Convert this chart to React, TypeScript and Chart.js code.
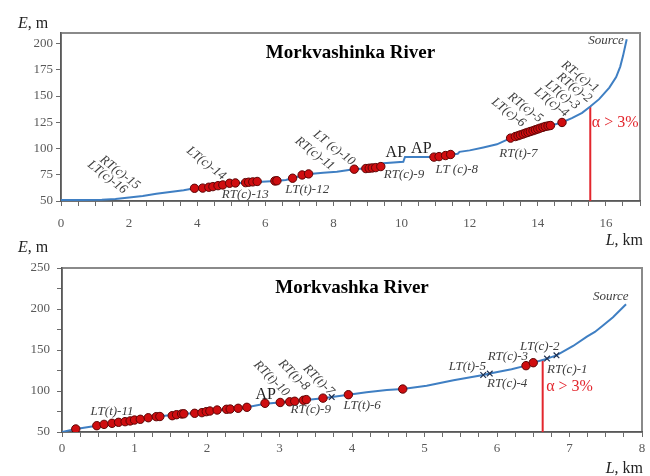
import React, { useEffect, useRef } from "react";
import { Chart, registerables } from "chart.js";

Chart.register(...registerables);

const SERIF = "'Liberation Serif', 'Times New Roman', serif";

// ---- Morkvashinka River (upper panel) ----
const morkvashinkaL = [0, 0.6, 1.2, 1.6, 2.0, 2.4, 2.8, 3.2, 3.6, 3.92, 4.3, 4.7, 5.1, 5.5, 5.9, 6.3, 6.6, 6.8, 7.1, 7.3, 7.7, 8.1, 8.6, 9.0, 9.4, 9.47, 10.05, 10.1, 10.85, 11.0, 11.45, 11.65, 11.7, 12.0, 12.4, 12.8, 13.2, 13.6, 14.0, 14.4, 14.7, 15.0, 15.3, 15.54, 15.8, 16.1, 16.3, 16.42, 16.5, 16.61];
const morkvashinkaE = [51, 51, 51.2, 52, 53.3, 54.8, 56.8, 58.6, 60.2, 62.1, 63, 65, 67, 67.6, 68.3, 69.1, 70, 71.7, 74.5, 75.8, 76.8, 77.8, 80.3, 81.2, 82.8, 86, 87.3, 92, 92, 91.8, 94.3, 95, 96.8, 98.2, 101, 104, 109.9, 114.7, 118.6, 122, 124.8, 129, 134, 140, 147, 158, 168, 178, 188, 204];
const morkvashinkaSiteL = [3.92, 4.16, 4.34, 4.46, 4.61, 4.75, 4.95, 5.12, 5.42, 5.51, 5.63, 5.76, 6.28, 6.34, 6.8, 7.08, 7.27, 8.61, 8.95, 9.05, 9.14, 9.24, 9.39, 10.95, 11.1, 11.29, 11.44, 13.2, 13.34, 13.42, 13.49, 13.57, 13.64, 13.71, 13.78, 13.86, 13.93, 14.0, 14.07, 14.15, 14.22, 14.3, 14.37, 14.71];
const morkvashinkaSiteE = [62.1, 62.3, 63.1, 63.7, 64.6, 65.3, 66.9, 67.2, 67.5, 67.9, 68.2, 68.6, 69.1, 69.3, 71.7, 74.8, 75.8, 80.3, 80.9, 81.2, 81.5, 81.8, 82.8, 91.8, 92.3, 93.3, 94.3, 109.9, 111.4, 112.2, 113.0, 113.8, 114.7, 115.4, 116.2, 117.0, 117.8, 118.6, 119.4, 120.2, 121.0, 121.5, 121.9, 124.8];
const morkvashinkaSlopeL = 15.54;
const morkvashinkaSlopeE = 140;
const morkvashinkaXLabels = [0, 2, 4, 6, 8, 10, 12, 14, 16];
const morkvashinkaYLabels = [50, 75, 100, 125, 150, 175, 200];
const morkvashinkaTribText = ["LT(c)-16", "RT(c)-15", "LT(c)-14", "RT(c)-13", "LT(t)-12", "RT(c)-11", "LT (c)-10", "RT(c)-9", "LT (c)-8", "RT(t)-7", "LT(c)-6", "RT(c)-5", "LT(c)-4", "LT(c)-3", "RT(c)-2", "RT-(c)-1"];
const morkvashinkaTribL = [1.36, 1.73, 4.26, 5.41, 7.23, 7.45, 8.02, 10.07, 11.62, 13.43, 13.14, 13.63, 14.4, 14.72, 15.07, 15.24];
const morkvashinkaTribE = [72.6, 77.1, 85.9, 55.7, 60.5, 95.2, 100.5, 74.8, 79.5, 94.8, 134.3, 139, 143.8, 151, 158.1, 168.4];
const morkvashinkaTribTilt = [38, 38, 38, 0, 0, 38, 38, 0, 0, 0, 38, 38, 38, 38, 38, 38];
const morkvashinkaApL = [9.83, 10.58];
const morkvashinkaApE = [95.7, 99.5];

// ---- Morkvashka River (lower panel) ----
const morkvashkaL = [0, 0.19, 0.48, 0.7, 1.0, 1.3, 1.6, 1.9, 2.2, 2.55, 2.8, 3.0, 3.3, 3.6, 3.95, 4.2, 4.48, 4.7, 5.03, 5.4, 5.81, 5.9, 6.2, 6.4, 6.5, 6.69, 6.82, 7.05, 7.24, 7.35, 7.47, 7.6, 7.78];
const morkvashkaE = [50, 53.7, 57.7, 60.8, 64.6, 68.5, 71.5, 73.5, 77, 80.1, 84.5, 86, 88.5, 91.3, 95.5, 98.5, 101.2, 102.4, 106.5, 113.2, 119.5, 121.3, 126.5, 130.9, 134.5, 139.5, 143.5, 154.9, 166.3, 172, 180.5, 190, 205.7];
const morkvashkaSiteL = [0.19, 0.48, 0.58, 0.69, 0.78, 0.87, 0.94, 1.0, 1.08, 1.19, 1.3, 1.35, 1.52, 1.58, 1.65, 1.68, 1.83, 1.93, 1.99, 2.04, 2.14, 2.27, 2.32, 2.43, 2.55, 2.8, 3.01, 3.14, 3.21, 3.33, 3.37, 3.6, 3.95, 4.7, 6.4, 6.5];
const morkvashkaSiteE = [53.7, 57.7, 59.3, 60.6, 61.8, 62.6, 63.5, 64.6, 65.5, 67.4, 68.7, 68.9, 69.9, 71.1, 72.0, 72.2, 72.8, 73.6, 74.8, 75.6, 76.8, 77.7, 78.0, 78.9, 80.1, 85.0, 86.0, 86.8, 87.5, 88.7, 89.5, 91.3, 95.5, 102.4, 130.9, 134.5];
const morkvashkaMouthL = [3.72, 5.81, 5.9, 6.69, 6.82];
const morkvashkaMouthE = [92.6, 119.5, 121.3, 139.5, 143.5];
const morkvashkaSlopeL = 6.63;
const morkvashkaSlopeE = 138;
const morkvashkaXLabels = [0, 1, 2, 3, 4, 5, 6, 7, 8];
const morkvashkaYLabels = [50, 100, 150, 200, 250];
const morkvashkaTribText = ["LT(t)-11", "RT(t)-10", "RT(t)-8", "RT(t)-7", "RT(c)-9", "LT(t)-6", "LT(t)-5", "RT(c)-4", "RT(c)-3", "LT(c)-2", "RT(c)-1"];
const morkvashkaTribL = [0.69, 2.89, 3.2, 3.54, 3.43, 4.14, 5.59, 6.14, 6.15, 6.59, 6.97];
const morkvashkaTribE = [74.4, 115.2, 119.5, 113.4, 76.8, 81.7, 129.3, 108.5, 141.5, 153.7, 125.6];
const morkvashkaTribTilt = [0, 45, 45, 45, 0, 0, 0, 0, 0, 0, 0];
const morkvashkaApL = [2.81];
const morkvashkaApE = [95.1];

type Note = { text: string; x: number; y: number; tilt?: number; font: string; color: string; align?: CanvasTextAlign };

type PanelSpec = {
  top: number;
  height: number;
  title: string;
  xMax: number;
  xMinor: number;
  xLabels: number[];
  yMin: number;
  yMax: number;
  yMinor: number;
  yLabels: number[];
  area: { left: number; right: number; top: number; bottom: number };
  yTick: { len: number; pad: number };
  xTick: { len: number; pad: number };
  titleY: number;
  eTitleY: number;
  lTitleY: number;
  line: { x: number; y: number }[];
  sites: { x: number; y: number }[];
  mouths: { x: number; y: number }[];
  slope: { x: number; y: number }[];
  notes: Note[];
  siteRadius: number;
};

const pairs = (xs: number[], ys: number[]) => xs.map((x, i) => ({ x, y: ys[i] }));

const italic = (px: number) => `italic ${px}px ${SERIF}`;
const upright = (px: number) => `${px}px ${SERIF}`;
const LABEL_GREY = "#3f3f3f";
const SLOPE_RED = "#e3262d";

function buildNotes(text: string[], ls: number[], es: number[], tilt: number[], apL: number[], apE: number[]): Note[] {
  const notes: Note[] = text.map((t, i) => ({ text: t, x: ls[i], y: es[i], tilt: tilt[i], font: italic(13), color: LABEL_GREY }));
  apL.forEach((l, i) => notes.push({ text: "AP", x: l, y: apE[i], font: upright(16), color: "#222" }));
  return notes;
}

const steps = (max: number, step: number) => {
  const out: number[] = [];
  for (let v = 0; v <= max + 1e-9; v += step) out.push(Math.round(v * 100) / 100);
  return out;
};

const decorPlugin = {
  id: "decor",
  beforeDraw(chart: any) {
    const { ctx, chartArea: a } = chart;
    ctx.save();
    ctx.fillStyle = "#ffffff";
    ctx.fillRect(a.left, a.top, a.right - a.left, a.bottom - a.top);
    ctx.strokeStyle = "#8a8a8a";
    ctx.lineWidth = 2;
    ctx.strokeRect(a.left, a.top, a.right - a.left, a.bottom - a.top);
    ctx.restore();
  },
  afterDraw(chart: any, _args: any, opts: any) {
    const { ctx, chartArea: a, scales } = chart;
    const sx = scales.x;
    const sy = scales.y;
    ctx.save();
    // panel title
    ctx.fillStyle = "#000";
    ctx.font = `bold 19px ${SERIF}`;
    ctx.textAlign = "center";
    ctx.textBaseline = "middle";
    ctx.fillText(opts.title, (a.left + a.right) / 2, opts.titleY);

    // annotations in data coordinates
    for (const n of opts.notes as Note[]) {
      const px = sx.getPixelForValue(n.x);
      const py = sy.getPixelForValue(n.y);
      ctx.save();
      ctx.translate(px, py);
      if (n.tilt) ctx.rotate((n.tilt * Math.PI) / 180);
      ctx.font = n.font;
      ctx.fillStyle = n.color;
      ctx.textAlign = n.align || "center";
      ctx.textBaseline = "middle";
      ctx.fillText(n.text, 0, 0);
      ctx.restore();
    }

    // axis titles: E, m  and  L, km
    ctx.textAlign = "left";
    ctx.textBaseline = "alphabetic";
    ctx.fillStyle = "#222";
    ctx.font = italic(16);
    ctx.fillText("E", 18, opts.eTitleY);
    const ew = ctx.measureText("E").width;
    ctx.font = upright(16);
    ctx.fillText(", m", 18 + ew, opts.eTitleY);

    ctx.font = upright(16);
    const kmW = ctx.measureText(", km").width;
    ctx.font = italic(16);
    const lW = ctx.measureText("L").width;
    const lx = 643 - kmW - lW;
    ctx.fillText("L", lx, opts.lTitleY);
    ctx.font = upright(16);
    ctx.fillText(", km", lx + lW, opts.lTitleY);
    ctx.restore();
  },
};

function Panel({ spec }: { spec: PanelSpec }) {
  const ref = useRef<HTMLCanvasElement | null>(null);

  useEffect(() => {
    if (!ref.current) return;
    const xTicks = steps(spec.xMax, spec.xMinor);
    const yTicks = steps(spec.yMax - spec.yMin, spec.yMinor).map((v) => v + spec.yMin);
    const chart = new Chart(ref.current, {
      type: "scatter",
      data: {
        datasets: [
          {
            label: "sites",
            data: spec.sites,
            order: 0,
            pointRadius: spec.siteRadius,
            pointBackgroundColor: "#cf0d10",
            pointBorderColor: "#5e0606",
            pointBorderWidth: 1,
            showLine: false,
          },
          {
            label: "mouths",
            data: spec.mouths,
            order: 1,
            pointStyle: "crossRot",
            pointRadius: 4,
            pointBorderColor: "#1f3050",
            pointBorderWidth: 1.2,
            showLine: false,
          },
          {
            label: "profile",
            data: spec.line,
            order: 2,
            showLine: true,
            borderColor: "#3f7fc3",
            borderWidth: 2,
            pointRadius: 0,
            tension: 0,
          },
          {
            label: "slope",
            data: spec.slope,
            order: 3,
            showLine: true,
            borderColor: SLOPE_RED,
            borderWidth: 2,
            pointRadius: 0,
          },
        ],
      },
      options: {
        animation: false,
        responsive: false,
        maintainAspectRatio: false,
        devicePixelRatio: 1,
        events: [],
        layout: {
          padding: { left: 0, top: spec.area.top, right: 650 - spec.area.right, bottom: 0 },
        },
        plugins: {
          legend: { display: false },
          tooltip: { enabled: false },
          decor: {
            title: spec.title,
            titleY: spec.titleY,
            eTitleY: spec.eTitleY,
            lTitleY: spec.lTitleY,
            notes: spec.notes,
          },
        } as any,
        scales: {
          x: {
            type: "linear",
            min: 0,
            max: spec.xMax,
            afterBuildTicks: (s: any) => {
              s.ticks = xTicks.map((value) => ({ value }));
            },
            afterFit: (s: any) => {
              s.height = spec.height - spec.area.bottom;
            },
            ticks: {
              autoSkip: false,
              maxRotation: 0,
              padding: spec.xTick.pad,
              color: "#595959",
              font: { family: SERIF, size: 13 },
              callback: (v: any) => (spec.xLabels.includes(Number(v)) ? String(v) : ""),
            },
            grid: { display: true, drawOnChartArea: false, drawTicks: true, tickLength: spec.xTick.len, color: "#6b6b6b" },
            border: { display: true, color: "#595959", width: 1.5 },
          },
          y: {
            type: "linear",
            min: spec.yMin,
            max: spec.yMax,
            afterBuildTicks: (s: any) => {
              s.ticks = yTicks.map((value) => ({ value }));
            },
            afterFit: (s: any) => {
              s.width = spec.area.left;
            },
            ticks: {
              autoSkip: false,
              padding: spec.yTick.pad,
              color: "#595959",
              font: { family: SERIF, size: 13 },
              callback: (v: any) => (spec.yLabels.includes(Number(v)) ? String(v) : ""),
            },
            grid: { display: true, drawOnChartArea: false, drawTicks: true, tickLength: spec.yTick.len, color: "#6b6b6b" },
            border: { display: true, color: "#595959", width: 1.5 },
          },
        },
      },
      plugins: [decorPlugin],
    } as any);
    return () => chart.destroy();
  }, [spec]);

  return (
    <canvas
      ref={ref}
      width={650}
      height={spec.height}
      style={{ position: "absolute", left: 0, top: spec.top, width: 650, height: spec.height, display: "block" }}
    />
  );
}

const upperNotes: Note[] = [
  ...buildNotes(morkvashinkaTribText, morkvashinkaTribL, morkvashinkaTribE, morkvashinkaTribTilt, morkvashinkaApL, morkvashinkaApE),
  { text: "Source", x: 16.0, y: 202.4, font: italic(13), color: LABEL_GREY },
  { text: "α > 3%", x: 16.27, y: 124.3, font: upright(16), color: SLOPE_RED },
];

const lowerNotes: Note[] = [
  ...buildNotes(morkvashkaTribText, morkvashkaTribL, morkvashkaTribE, morkvashkaTribTilt, morkvashkaApL, morkvashkaApE),
  { text: "Source", x: 7.57, y: 214.6, font: italic(13), color: LABEL_GREY },
  { text: "α > 3%", x: 7.0, y: 104.9, font: upright(16), color: SLOPE_RED },
];

const upperSpec: PanelSpec = {
  top: 0,
  height: 250,
  title: "Morkvashinka River",
  xMax: 17,
  xMinor: 0.5,
  xLabels: morkvashinkaXLabels,
  yMin: 50,
  yMax: 210,
  yMinor: 25,
  yLabels: morkvashinkaYLabels,
  area: { left: 61, right: 642, top: 33, bottom: 201 },
  yTick: { len: 5, pad: 3 },
  xTick: { len: 5, pad: 10 },
  titleY: 53,
  eTitleY: 28,
  lTitleY: 245,
  line: pairs(morkvashinkaL, morkvashinkaE),
  sites: pairs(morkvashinkaSiteL, morkvashinkaSiteE),
  mouths: [],
  slope: [
    { x: morkvashinkaSlopeL, y: 50 },
    { x: morkvashinkaSlopeL, y: morkvashinkaSlopeE },
  ],
  notes: upperNotes,
  siteRadius: 4.2,
};

const lowerSpec: PanelSpec = {
  top: 240,
  height: 236,
  title: "Morkvashka River",
  xMax: 8,
  xMinor: 0.25,
  xLabels: morkvashkaXLabels,
  yMin: 50,
  yMax: 250,
  yMinor: 25,
  yLabels: morkvashkaYLabels,
  area: { left: 62, right: 642, top: 28, bottom: 192 },
  yTick: { len: 5, pad: 7 },
  xTick: { len: 5, pad: 4 },
  titleY: 48,
  eTitleY: 12,
  lTitleY: 233,
  line: pairs(morkvashkaL, morkvashkaE),
  sites: pairs(morkvashkaSiteL, morkvashkaSiteE),
  mouths: pairs(morkvashkaMouthL, morkvashkaMouthE),
  slope: [
    { x: morkvashkaSlopeL, y: 50 },
    { x: morkvashkaSlopeL, y: morkvashkaSlopeE },
  ],
  notes: lowerNotes,
  siteRadius: 4.2,
};

export default function App() {
  return (
    <div style={{ position: "fixed", left: 0, top: 0, width: 650, height: 476, background: "#ffffff", overflow: "hidden" }}>
      <Panel spec={upperSpec} />
      <Panel spec={lowerSpec} />
    </div>
  );
}
